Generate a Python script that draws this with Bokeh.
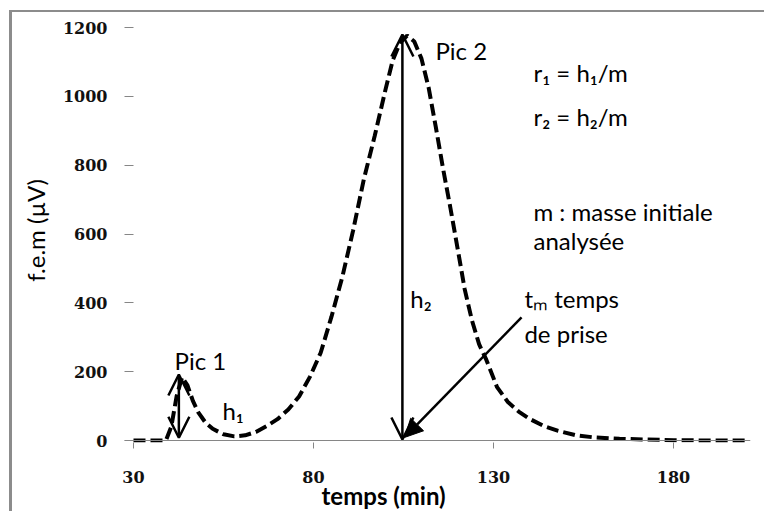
from bokeh.plotting import figure
from bokeh.models import (Range1d, FixedTicker, Span, Label, Arrow, OpenHead,
                          NormalHead)
from bokeh.embed import file_html
from bokeh.resources import INLINE

# ---- data ----
time_min = [30, 33, 36, 39, 40.5, 42, 43.5, 45, 46.5, 48, 50, 52, 55, 58, 61,
            64, 67, 70, 73, 76, 79, 82, 85, 88, 91, 94, 97, 100, 102, 104,
            106, 108, 110, 112, 114, 116, 118, 120, 122, 124, 126, 128, 131,
            134, 137, 140, 144, 148, 153, 158, 165, 172, 180, 190, 201]
fem_uv = [0, 0, 0, 0, 40, 130, 184, 160, 115, 82, 52, 34, 18, 12, 15,
          25, 42, 62, 90, 128, 185, 255, 360, 475, 610, 760, 885, 1020, 1105,
          1155, 1177, 1160, 1110, 1025, 910, 790, 678, 560, 440, 350, 280,
          235, 155, 112, 84, 63, 42, 28, 15, 9, 5, 3, 1, 0, 0]
x_ticks = [30, 80, 130, 180]
y_ticks = [0, 200, 400, 600, 800, 1000, 1200]

# annotation anchors (data units)
pic1_x, pic1_top, pic1_bot = 42.6, 192, 8
pic2_x, pic2_top, pic2_bot = 104.7, 1180, 3
tm_start = (137.8, 358)
tm_end = (105.3, 9)

GRAY = "#868686"
FONT = "Lato"

p = figure(width=755, height=501, output_backend="svg", toolbar_location=None,
           x_range=Range1d(27.5, 201.4), y_range=Range1d(-5.8, 1226.7),
           min_border_left=112, min_border_right=17, min_border_top=6,
           min_border_bottom=71)
p.styles = {"border-style": "solid none none solid",
            "border-width": "2px 0px 0px 3px",
            "border-color": "#8c8c8c"}
p.margin = (10, 0, 0, 9)
p.outline_line_color = None
p.xgrid.grid_line_color = None
p.ygrid.grid_line_color = None
p.background_fill_color = "white"
p.border_fill_color = "white"

# axes
for ax in (p.xaxis[0], p.yaxis[0]):
    ax.axis_line_color = None
    ax.minor_tick_line_color = None
    ax.major_tick_line_color = GRAY
    ax.major_label_text_font = "DejaVu Serif"
    ax.major_label_text_font_style = "bold"
    ax.major_label_text_font_size = "16px"
    ax.major_label_text_color = "#111111"

p.xaxis.ticker = FixedTicker(ticks=x_ticks)
p.xaxis.major_tick_out = 6
p.xaxis.major_tick_in = 0
p.xaxis.major_label_standoff = 22

p.yaxis.ticker = FixedTicker(ticks=y_ticks)
p.yaxis.major_tick_out = 0
p.yaxis.major_tick_in = 9
p.yaxis.major_label_standoff = 17
p.yaxis.axis_label = "f.e.m (µV)"
p.yaxis.axis_label_text_font = FONT
p.yaxis.axis_label_text_font_style = "normal"
p.yaxis.axis_label_text_font_size = "24px"
p.yaxis.axis_label_text_color = "black"
p.yaxis.axis_label_standoff = 10

# x axis title placed as a bottom title, shifted left like the reference
p.title_location = "below"
p.title.text = "temps (min)"
p.title.align = "left"
p.title.offset = 197
p.title.text_font = FONT
p.title.text_font_size = "24px"
p.title.text_font_style = "bold"
p.title.text_color = "black"
p.title.standoff = -13

p.add_layout(Span(location=0, dimension="width", line_color=GRAY, line_width=1))

# curve
p.line(time_min, fem_uv, line_color="black", line_width=4, line_dash="12 5")

# arrows
p.add_layout(Arrow(start=OpenHead(size=21, line_width=2.5),
                   end=OpenHead(size=21, line_width=2.5),
                   x_start=pic1_x, y_start=pic1_bot, x_end=pic1_x, y_end=pic1_top,
                   line_width=2.5))
p.add_layout(Arrow(start=OpenHead(size=22, line_width=2.5),
                   end=OpenHead(size=22, line_width=2.5),
                   x_start=pic2_x, y_start=pic2_bot, x_end=pic2_x, y_end=pic2_top,
                   line_width=2.5))
p.add_layout(Arrow(end=NormalHead(size=18, fill_color="black", line_color="black"),
                   x_start=tm_start[0], y_start=tm_start[1],
                   x_end=tm_end[0], y_end=tm_end[1], line_width=2.5))

# texts
box_x = 30 + (533 - 133) / 3.6
texts = [
    ("Pic 1", 41.4, 232.6),
    ("h₁", 54.7, 87),
    ("Pic 2", 113.9, 1134),
    ("r₁ = h₁/m", box_x, 1070),
    ("r₂ = h₂/m", box_x, 942),
    ("m : masse initiale", box_x, 666),
    ("analysée", box_x, 581),
    ("h₂", 106.9, 413),
    ("tₘ temps", 138.6, 413),
    ("de prise", 138.6, 311),
]
for t, x, y in texts:
    p.add_layout(Label(x=x, y=y, text=t, text_font=FONT, text_font_size="24px",
                       text_align="left", text_baseline="alphabetic",
                       text_color="black"))

open("out.html", "w").write(file_html(p, INLINE))
